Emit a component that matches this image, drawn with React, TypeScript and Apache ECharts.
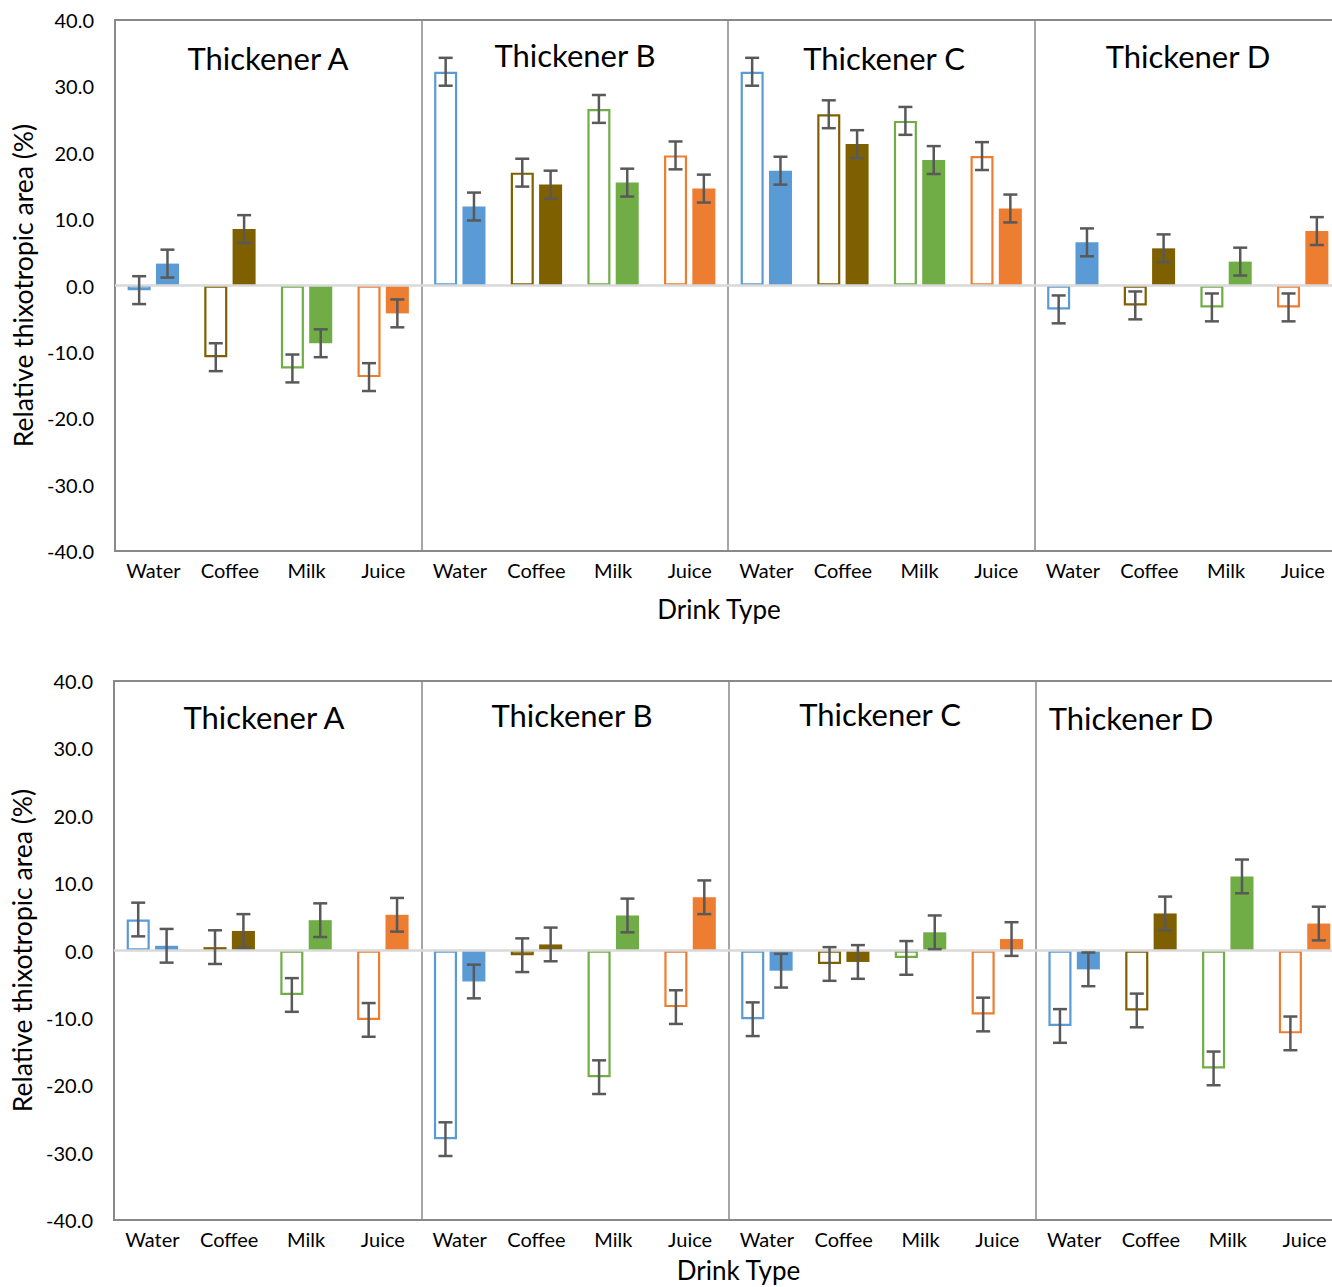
import React, { useEffect, useRef } from "react";
import * as echarts from "echarts";

const thickeners = ["Thickener A", "Thickener B", "Thickener C", "Thickener D"];
const drinks = ["Water", "Coffee", "Milk", "Juice"];
const drinkColors = ["#5B9BD5", "#7F6000", "#70AD47", "#ED7D31"];

// Top panel (order: A Water..Juice, B ..., C ..., D ...)
const topHollow = [-0.7, -10.8, -12.5, -13.8, 32.2, 17.0, 26.6, 19.6, 32.2, 25.8, 24.8, 19.5, -3.6, -3.0, -3.3, -3.3];
const topFilled = [3.3, 8.5, -8.7, -4.2, 11.9, 15.2, 15.5, 14.6, 17.3, 21.3, 18.9, 11.6, 6.5, 5.6, 3.6, 8.2];
const topHollowErr = [2.1, 2.1, 2.1, 2.1, 2.1, 2.1, 2.1, 2.1, 2.1, 2.1, 2.1, 2.1, 2.1, 2.1, 2.1, 2.1];
const topFilledErr = [2.1, 2.1, 2.1, 2.1, 2.1, 2.1, 2.1, 2.1, 2.1, 2.1, 2.1, 2.1, 2.1, 2.1, 2.1, 2.1];

// Bottom panel
const bottomHollow = [4.6, 0.5, -6.6, -10.3, -28.0, -0.7, -18.8, -8.4, -10.2, -2.0, -1.1, -9.5, -11.2, -8.9, -17.5, -12.3];
const bottomFilled = [0.7, 2.9, 4.5, 5.3, -4.6, 0.9, 5.2, 7.9, -3.0, -1.7, 2.7, 1.7, -2.8, 5.5, 11.0, 4.0];
const bottomHollowErr = [2.5, 2.5, 2.5, 2.5, 2.5, 2.5, 2.5, 2.5, 2.5, 2.5, 2.5, 2.5, 2.5, 2.5, 2.5, 2.5];
const bottomFilledErr = [2.5, 2.5, 2.5, 2.5, 2.5, 2.5, 2.5, 2.5, 2.5, 2.5, 2.5, 2.5, 2.5, 2.5, 2.5, 2.5];

const yAxisName = "Relative thixotropic area (%)";
const xAxisName = "Drink Type";

const FONT = "Lato";
const FRAME = "#898989";

const catKeys = thickeners.flatMap((t) => drinks.map((d) => `${t}|${d}`));

function errorSeries(p: number, values: number[], errs: number[], side: number) {
  return {
    type: "custom",
    xAxisIndex: p,
    yAxisIndex: p,
    z: 5,
    silent: true,
    encode: { x: 0, y: 1 },
    data: values.map((v, i) => [i, v, errs[i]]),
    renderItem: (params: any, api: any) => {
      const x = api.value(0);
      const v = api.value(1);
      const e = api.value(2);
      const cw = api.size([1, 0])[0];
      const off = side * cw * 0.1848;
      const t = api.coord([x, v + e]);
      const b = api.coord([x, v - e]);
      const cx = t[0] + off;
      const style = { stroke: "#595959", lineWidth: 2.5 };
      const h = 7;
      return {
        type: "group",
        children: [
          { type: "line", shape: { x1: cx, y1: t[1], x2: cx, y2: b[1] }, style },
          { type: "line", shape: { x1: cx - h, y1: t[1], x2: cx + h, y2: t[1] }, style },
          { type: "line", shape: { x1: cx - h, y1: b[1], x2: cx + h, y2: b[1] }, style },
        ],
      };
    },
  };
}

function panelSeries(p: number, hollow: number[], filled: number[], hErr: number[], fErr: number[]) {
  return [
    {
      type: "bar",
      name: "hollow",
      xAxisIndex: p,
      yAxisIndex: p,
      barCategoryGap: "33%",
      barGap: "23%",
      data: hollow.map((v, i) => ({
        value: v,
        itemStyle: { color: "#ffffff", borderColor: drinkColors[i % 4], borderWidth: 2.2 },
      })),
      markLine: {
        silent: true,
        symbol: ["none", "none"],
        label: { show: false },
        lineStyle: { color: "#D9D9D9", width: 2.5, type: "solid" },
        data: [{ yAxis: 0 }],
      },
    },
    {
      type: "bar",
      name: "filled",
      xAxisIndex: p,
      yAxisIndex: p,
      barCategoryGap: "33%",
      barGap: "23%",
      data: filled.map((v, i) => ({ value: v, itemStyle: { color: drinkColors[i % 4] } })),
    },
    errorSeries(p, hollow, hErr, -1),
    errorSeries(p, filled, fErr, 1),
  ];
}

function xAxisFor(p: number, nameGap: number, padding: number[]) {
  return {
    type: "category",
    gridIndex: p,
    data: catKeys,
    axisLine: { show: true, onZero: false, lineStyle: { color: FRAME, width: 2 } },
    axisTick: { show: false },
    axisLabel: {
      formatter: (v: string) => v.split("|")[1],
      fontFamily: FONT,
      fontSize: 20,
      color: "#000",
      margin: 9,
      interval: 0,
    },
    splitLine: {
      show: true,
      interval: (i: number) => i % 4 === 0 && i > 0 && i < 16,
      lineStyle: { color: FRAME, width: 1.5 },
    },
    name: xAxisName,
    nameLocation: "middle",
    nameGap,
    nameTextStyle: { fontFamily: FONT, fontSize: 26, color: "#000", padding },
  };
}

function yAxisFor(p: number) {
  return {
    type: "value",
    gridIndex: p,
    min: -40,
    max: 40,
    interval: 10,
    axisLine: { show: true, lineStyle: { color: FRAME, width: 2 } },
    axisTick: { show: false },
    splitLine: { show: false },
    axisLabel: {
      formatter: (v: number) => v.toFixed(1),
      fontFamily: FONT,
      fontSize: 20,
      color: "#000",
      margin: 21,
    },
    name: yAxisName,
    nameLocation: "middle",
    nameRotate: 90,
    nameGap: 79,
    nameTextStyle: { fontFamily: FONT, fontSize: 26.5, color: "#000" },
  };
}

const topTitlePos = [
  [268, 58],
  [575, 55],
  [884, 58],
  [1188, 56],
];
const bottomTitlePos = [
  [264, 717],
  [572, 715],
  [880, 714],
  [1131, 718],
];

export default function App() {
  const ref = useRef<HTMLDivElement>(null);
  useEffect(() => {
    document.body.style.margin = "0";
    if (!ref.current) return;
    const chart = echarts.init(ref.current, null, { renderer: "svg" });
    const titles = [
      ...thickeners.map((t, i) => ({ t, pos: topTitlePos[i] })),
      ...thickeners.map((t, i) => ({ t, pos: bottomTitlePos[i] })),
    ].map(({ t, pos }) => ({
      type: "text",
      x: pos[0],
      y: pos[1],
      z: 10,
      style: {
        text: t,
        fontFamily: FONT,
        fontSize: 31,
        fill: "#000",
        textAlign: "center",
        textVerticalAlign: "middle",
      },
    }));
    chart.setOption({
      animation: false,
      backgroundColor: "#ffffff",
      grid: [
        { left: 115, top: 20, width: 1226, height: 531, show: true, borderColor: FRAME, borderWidth: 2, backgroundColor: "transparent" },
        { left: 111, top: 681, width: 1232, height: 539, show: true, borderColor: FRAME, borderWidth: 2, backgroundColor: "transparent" },
      ],
      xAxis: [xAxisFor(0, 45, [0, 18, 0, 0]), xAxisFor(1, 37, [0, 0, 0, 20])],
      yAxis: [yAxisFor(0), yAxisFor(1)],
      series: [
        ...panelSeries(0, topHollow, topFilled, topHollowErr, topFilledErr),
        ...panelSeries(1, bottomHollow, bottomFilled, bottomHollowErr, bottomFilledErr),
      ],
      graphic: titles,
    });
    return () => chart.dispose();
  }, []);
  return (
    <div style={{ width: 1332, height: 1287, overflow: "hidden", position: "relative" }}>
      <div ref={ref} style={{ width: 1350, height: 1287 }} />
    </div>
  );
}
